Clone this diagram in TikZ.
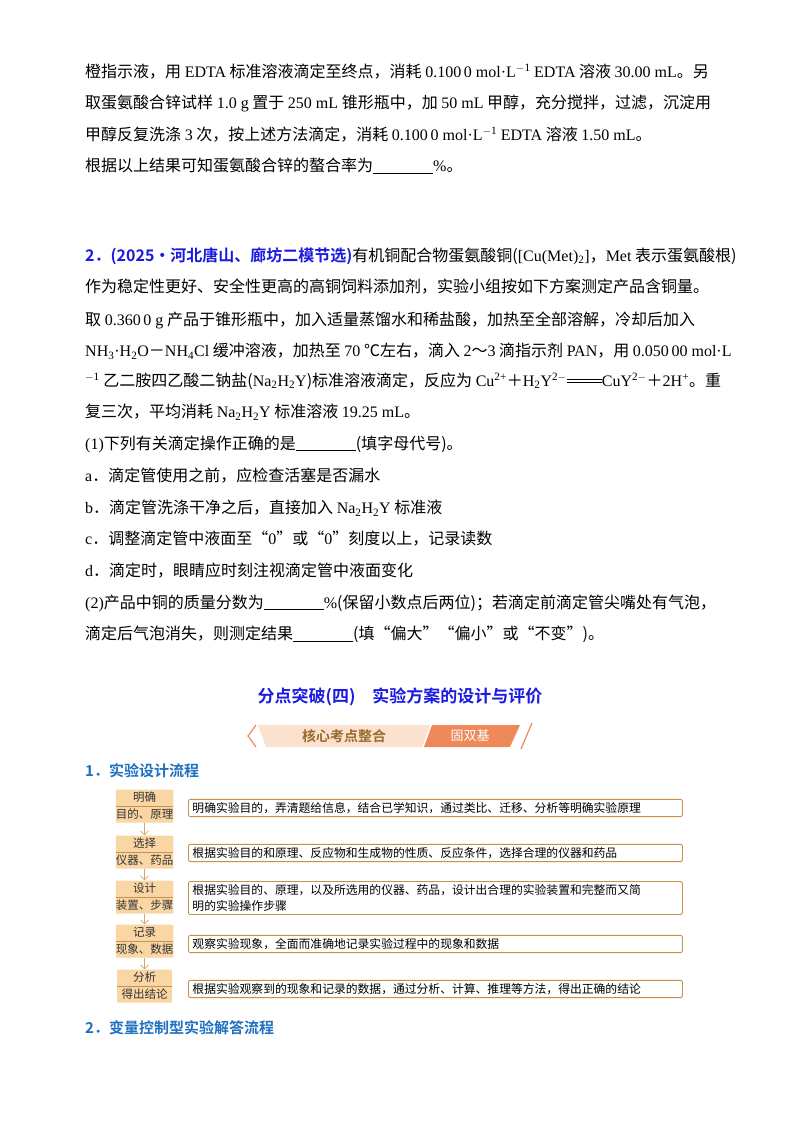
\documentclass[tikz,border=0pt]{standalone}
\usepackage{fontspec}
\setmainfont{Noto Sans CJK SC}[BoldFont={Noto Sans CJK SC Bold}]
\newfontfamily\lat{Liberation Serif}
\usetikzlibrary{arrows.meta,calc}
\definecolor{tblue}{HTML}{1A1AE0}
\definecolor{hblue}{HTML}{1F70C1}
\definecolor{obox}{HTML}{F9D6A4}
\definecolor{obrd}{HTML}{C8914A}
\definecolor{bantx}{HTML}{9A6A30}
\definecolor{banor}{HTML}{EE8A5A}
\definecolor{banlt}{HTML}{FBE2CF}
\newcommand{\E}[1]{{\lat #1}}
\newcommand{\blank}{\rule[-2pt]{60pt}{0.6pt}}
\newcommand{\eqs}{\rlap{\raisebox{.22em}{\rule{2.2em}{.5pt}}}\raisebox{.42em}{\rule{2.2em}{.5pt}}}
\begin{document}
\begin{tikzpicture}[x=1pt,y=-1pt,
  ln/.style={anchor=west,inner sep=0pt,font=\fontsize{16}{19}\selectfont},
  lbox/.style={fill=obox,minimum width=55pt,minimum height=33pt,inner sep=0pt,rounded corners=1pt,font=\fontsize{11.5}{16}\selectfont,text=black!80,align=center},
  rbox/.style={draw=obrd,line width=0.9pt,rounded corners=2pt,fill=white,anchor=west,minimum width=494pt,text width=486pt,inner sep=3pt,font=\fontsize{11.8}{16}\selectfont,align=left},
  arr/.style={-{Straight Barb[length=4pt,width=8pt]},draw=obrd!80,line width=0.6pt}]
\useasboundingbox (0,0) rectangle (800,1132);
\fill[white] (0,0) rectangle (800,1132);
\node[ln] (l1) at (85,72) {橙指示液，用 \E{EDTA} 标准溶液滴定至终点，消耗 \E{0.100\,0 mol·L\textsuperscript{$-$1}} \E{EDTA} 溶液 \E{30.00 mL}。另};
\node[ln] (l2) at (85,103) {取蛋氨酸合锌试样 \E{1.0 g} 置于 \E{250 mL} 锥形瓶中，加 \E{50 mL} 甲醇，充分搅拌，过滤，沉淀用};
\node[ln] (l3) at (85,135) {甲醇反复洗涤 \E{3} 次，按上述方法滴定，消耗 \E{0.100\,0 mol·L\textsuperscript{$-$1}} \E{EDTA} 溶液 \E{1.50 mL}。};
\node[ln] (l4) at (85,166) {根据以上结果可知蛋氨酸合锌的螯合率为\blank\E{\%}。};
\node[ln] (l5) at (85,256) {\textcolor{tblue}{\textbf{2．(2025·河北唐山、廊坊二模节选)}}有机铜配合物蛋氨酸铜(\E{[Cu(Met)\textsubscript{2}]}，\E{Met} 表示蛋氨酸根)};
\node[ln] (l6) at (85,287) {作为稳定性更好、安全性更高的高铜饲料添加剂，实验小组按如下方案测定产品含铜量。};
\node[ln] (l7) at (85,320) {取 \E{0.360\,0 g} 产品于锥形瓶中，加入适量蒸馏水和稀盐酸，加热至全部溶解，冷却后加入};
\node[ln] (l8) at (85,351) {\E{NH\textsubscript{3}·H\textsubscript{2}O}－\E{NH\textsubscript{4}Cl} 缓冲溶液，加热至 \E{70} ℃左右，滴入 \E{2}～\E{3} 滴指示剂 \E{PAN}，用 \E{0.050\,00 mol·L}};
\node[ln] (l9) at (85,381) {\E{\textsuperscript{$-$1}} 乙二胺四乙酸二钠盐(\E{Na\textsubscript{2}H\textsubscript{2}Y})标准溶液滴定，反应为 \E{Cu\textsuperscript{2+}}＋\E{H\textsubscript{2}Y\textsuperscript{2$-$}}\eqs\E{CuY\textsuperscript{2$-$}}＋\E{2H\textsuperscript{+}}。重};
\node[ln] (l10) at (85,412) {复三次，平均消耗 \E{Na\textsubscript{2}H\textsubscript{2}Y} 标准溶液 \E{19.25 mL}。};
\node[ln] (l11) at (85,444) {\E{(1)}下列有关滴定操作正确的是\blank(填字母代号)。};
\node[ln] (l12) at (85,476) {\E{a}．滴定管使用之前，应检查活塞是否漏水};
\node[ln] (l13) at (85,508) {\E{b}．滴定管洗涤干净之后，直接加入 \E{Na\textsubscript{2}H\textsubscript{2}Y} 标准液};
\node[ln] (l14) at (85,539) {\E{c}．调整滴定管中液面至“\E{0}”或“\E{0}”刻度以上，记录读数};
\node[ln] (l15) at (85,571) {\E{d}．滴定时，眼睛应时刻注视滴定管中液面变化};
\node[ln] (l16) at (85,603) {\E{(2)}产品中铜的质量分数为\blank\E{\%}(保留小数点后两位)；若滴定前滴定管尖嘴处有气泡，};
\node[ln] (l17) at (85,634) {滴定后气泡消失，则测定结果\blank(填“偏大”“偏小”或“不变”)。};
% title
\node[inner sep=0pt,font=\fontsize{17}{20}\selectfont\bfseries,text=tblue] (tt) at (400,697) {分点突破(四)\quad 实验方案的设计与评价};
% banner
\fill[banlt] (258,725) -- (430,725) -- (422,747) -- (266,747) -- cycle;
\fill[banor] (432,725) -- (520,725) -- (510,747) -- (424,747) -- cycle;
\draw[banor,line width=1.2pt] (256,725) -- (248,736) -- (256,747);
\draw[banor,line width=1.2pt] (532,723) -- (521,749);
\node[inner sep=0pt,font=\fontsize{14}{15}\selectfont\bfseries,text=bantx] (bn1) at (344,736) {核心考点整合};
\node[inner sep=0pt,font=\fontsize{13}{15}\selectfont,text=white] (bn2) at (470,736) {固双基};
\node[ln,font=\fontsize{15}{17}\selectfont\bfseries,text=hblue] (h1) at (85,771) {1．实验设计流程};
\node[ln,font=\fontsize{15}{17}\selectfont\bfseries,text=hblue] (h2) at (85,1028) {2．变量控制型实验解答流程};
% flowchart
\foreach \n/\y/\a/\b in {1/806/明确/目的、原理,2/852/选择/仪器、药品,3/897/设计/装置、步骤,4/941/记录/现象、数据,5/986/分析/得出结论}{
  \node[lbox] (L\n) at (144.5,\y) {\a\\[1pt]\b};
  \draw[obrd,line width=0.6pt] ($(L\n.west)+(0,0.5)$) -- ($(L\n.east)+(0,0.5)$);
}
\node[rbox] (R1) at (188,808) {明确实验目的，弄清题给信息，结合已学知识，通过类比、迁移、分析等明确实验原理};
\node[rbox] (R2) at (188,853) {根据实验目的和原理、反应物和生成物的性质、反应条件，选择合理的仪器和药品};
\node[rbox] (R3) at (188,898) {根据实验目的、原理，以及所选用的仪器、药品，设计出合理的实验装置和完整而又简\\明的实验操作步骤};
\node[rbox] (R4) at (188,944) {观察实验现象，全面而准确地记录实验过程中的现象和数据};
\node[rbox] (R5) at (188,989) {根据实验观察到的现象和记录的数据，通过分析、计算、推理等方法，得出正确的结论};
\foreach \i/\j in {1/2,2/3,3/4,4/5}{\draw[arr] (L\i.south) -- (L\j.north);}
\end{tikzpicture}
\end{document}
